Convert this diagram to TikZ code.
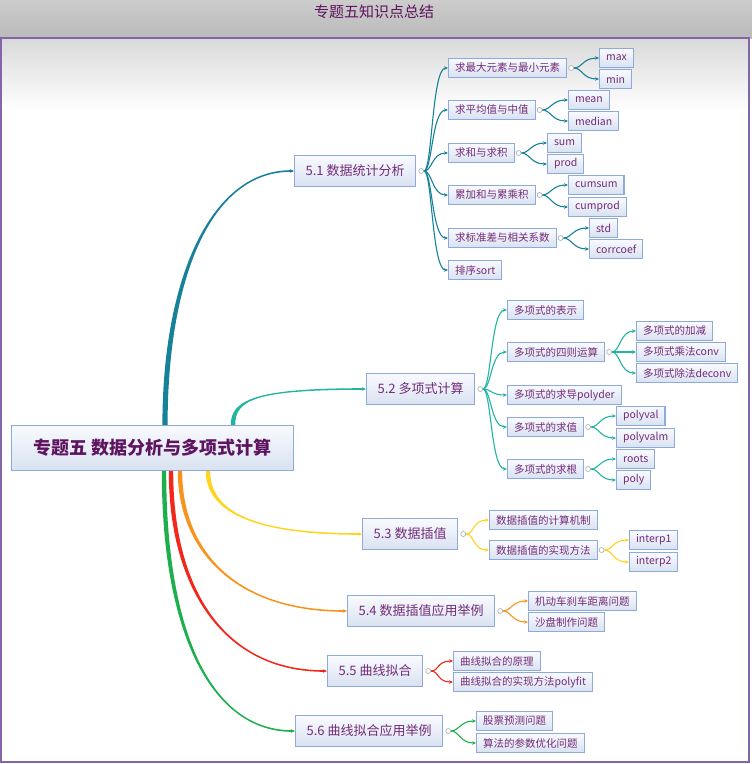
\documentclass[tikz,border=0pt]{standalone}
\usepackage{fontspec}
\setmainfont{Noto Sans CJK SC}
\usetikzlibrary{arrows.meta,calc}

\definecolor{txtpurple}{HTML}{742C78}
\definecolor{rootpurple}{HTML}{5E145E}
\definecolor{boxline}{HTML}{8EAADB}
\definecolor{boxtop}{HTML}{F8FAFE}
\definecolor{boxbot}{HTML}{D9E2F1}
\definecolor{frameline}{HTML}{8466A6}
\definecolor{cA}{HTML}{17819A}
\definecolor{cB}{HTML}{1FB5A0}
\definecolor{cC}{HTML}{FFD320}
\definecolor{cD}{HTML}{F7941D}
\definecolor{cE}{HTML}{F2281C}
\definecolor{cF}{HTML}{1DAF4C}

% thick tapered main branch: colour, from, control 1, control 2, to, half width at start
\newcommand\bigbranch[6]{%
  \fill[#1] ($(#2)-(#6,0)$) .. controls ($(#3)-(#6,0)$) and ($(#4)+(0,-0.8)$) .. ($(#5)+(-3,-0.8)$)
    -- ($(#5)+(-3,0.8)$) .. controls ($(#4)+(0,0.8)$) and ($(#3)+(#6,0)$) .. ($(#2)+(#6,0)$) -- cycle;
  \draw[#1,line width=1.2pt,-{Stealth[length=4pt,width=3.5pt]}] ($(#5)+(-4,0)$) -- (#5);
}

\begin{document}
\begin{tikzpicture}[%
      x=1pt,y=-1pt,
      box/.style={draw=boxline,line width=1.1pt,top color=boxtop,bottom color=boxbot,
        text=txtpurple,anchor=west,inner sep=0pt,inner xsep=6.5pt,minimum height=19pt,
        font=\fontsize{10.5}{12}\selectfont},
      topic/.style={box,line width=1.3pt,inner xsep=11pt,minimum height=31pt,
        font=\fontsize{13}{15}\selectfont},
      rootbox/.style={box,line width=1.3pt,inner xsep=22pt,minimum height=45pt,
        text=rootpurple,font=\fontsize{18}{20}\selectfont\bfseries},
      knob/.style={circle,draw=gray!60,fill=white,line width=0.7pt,inner sep=0pt,minimum size=5pt},
      sub/.style={line width=1.1pt,-{Stealth[length=4pt,width=3.5pt]}},
      ]
      \useasboundingbox (0,0) rectangle (752,764);

      % background and frame
      \shade[top color=black!20,bottom color=black!27] (0,0) rectangle (752,38);
      \shade[top color=black!15,bottom color=white] (1,38) rectangle (749,110);
      \draw[frameline,line width=2pt] (1,38) rectangle (749,762);
      \node[text=rootpurple,font=\fontsize{15}{17}\selectfont] (title) at (374,12) {专题五知识点总结};

      % root and topics
      \node[rootbox] (root) at (11,448) {专题五 数据分析与多项式计算};
      \node[topic] (t1) at (294,171) {5.1 数据统计分析};
      \node[topic] (t2) at (366,389) {5.2 多项式计算};
      \node[topic] (t3) at (362,534) {5.3 数据插值};
      \node[topic] (t4) at (347,611) {5.4 数据插值应用举例};
      \node[topic] (t5) at (327,671) {5.5 曲线拟合};
      \node[topic] (t6) at (295,731) {5.6 曲线拟合应用举例};

      % 5.1
      \node[box] (a1) at (448,68) {求最大元素与最小元素};
      \node[box] (a2) at (448,110) {求平均值与中值};
      \node[box] (a3) at (448,153) {求和与求积};
      \node[box] (a4) at (448,195) {累加和与累乘积};
      \node[box] (a5) at (448,238) {求标准差与相关系数};
      \node[box] (a6) at (448,270) {排序sort};
      \node[box] (a1x) at (599,58) {max};
      \node[box] (a1y) at (599,79) {min};
      \node[box] (a2x) at (568,100) {mean};
      \node[box] (a2y) at (568,121) {median};
      \node[box] (a3x) at (547,143) {sum};
      \node[box] (a3y) at (547,164) {prod};
      \node[box] (a4x) at (568,185) {cumsum};
      \node[box] (a4y) at (568,207) {cumprod};
      \node[box] (a5x) at (589,228) {std};
      \node[box] (a5y) at (589,249) {corrcoef};

      % 5.2
      \node[box] (b1) at (507,310) {多项式的表示};
      \node[box] (b2) at (507,352) {多项式的四则运算};
      \node[box] (b3) at (507,395) {多项式的求导polyder};
      \node[box] (b4) at (507,427) {多项式的求值};
      \node[box] (b5) at (507,469) {多项式的求根};
      \node[box] (b2x) at (636,331) {多项式的加减};
      \node[box] (b2y) at (636,352) {多项式乘法conv};
      \node[box] (b2z) at (636,373) {多项式除法deconv};
      \node[box] (b4x) at (616,416) {polyval};
      \node[box] (b4y) at (616,438) {polyvalm};
      \node[box] (b5x) at (616,459) {roots};
      \node[box] (b5y) at (616,480) {poly};

      % 5.3 to 5.6
      \node[box] (c1) at (489,520) {数据插值的计算机制};
      \node[box] (c2) at (489,550) {数据插值的实现方法};
      \node[box] (c2x) at (629,540) {interp1};
      \node[box] (c2y) at (629,562) {interp2};
      \node[box] (d1) at (528,601) {机动车刹车距离问题};
      \node[box] (d2) at (528,622) {沙盘制作问题};
      \node[box] (e1) at (453,661) {曲线拟合的原理};
      \node[box] (e2) at (453,682) {曲线拟合的实现方法polyfit};
      \node[box] (f1) at (476,721) {股票预测问题};
      \node[box] (f2) at (476,743) {算法的参数优化问题};

      % main branches
      \coordinate (o1) at ([xshift=154pt]root.north west);
      \coordinate (o2) at ([xshift=222pt]root.north west);
      \coordinate (o3) at ([xshift=197pt]root.south west);
      \coordinate (o4) at ([xshift=169pt]root.south west);
      \coordinate (o5) at ([xshift=160pt]root.south west);
      \coordinate (o6) at ([xshift=153pt]root.south west);
      \bigbranch{cA}{o1}{165,280}{210,171}{t1.west}{2.6}
      \bigbranch{cB}{o2}{233,400}{255,389}{t2.west}{2.2}
      \bigbranch{cC}{o3}{208,510}{250,534}{t3.west}{-2.2}
      \bigbranch{cD}{o4}{180,550}{235,611}{t4.west}{-2.2}
      \bigbranch{cE}{o5}{171,590}{225,671}{t5.west}{-2.2}
      \bigbranch{cF}{o6}{164,640}{215,731}{t6.west}{-2.2}

      % knobs
      \node[knob] (k1) at ([xshift=5pt]t1.east) {};
      \node[knob] (k2) at ([xshift=5pt]t2.east) {};
      \node[knob] (k3) at ([xshift=5pt]t3.east) {};
      \node[knob] (k4) at ([xshift=5pt]t4.east) {};
      \node[knob] (k5) at ([xshift=5pt]t5.east) {};
      \node[knob] (k6) at ([xshift=5pt]t6.east) {};
      \node[knob] (ka1) at ([xshift=4pt]a1.east) {};
      \node[knob] (ka2) at ([xshift=4pt]a2.east) {};
      \node[knob] (ka3) at ([xshift=4pt]a3.east) {};
      \node[knob] (ka4) at ([xshift=4pt]a4.east) {};
      \node[knob] (ka5) at ([xshift=4pt]a5.east) {};
      \node[knob] (kb2) at ([xshift=4pt]b2.east) {};
      \node[knob] (kb4) at ([xshift=4pt]b4.east) {};
      \node[knob] (kb5) at ([xshift=4pt]b5.east) {};
      \node[knob] (kc2) at ([xshift=4pt]c2.east) {};

      % 5.1 connectors
      \draw[sub,cA] (k1.east) .. controls +(8,0) and +(-16,0) .. (a1.west);
      \draw[sub,cA] (k1.east) .. controls +(8,0) and +(-16,0) .. (a2.west);
      \draw[sub,cA] (k1.east) .. controls +(8,0) and +(-16,0) .. (a3.west);
      \draw[sub,cA] (k1.east) .. controls +(8,0) and +(-16,0) .. (a4.west);
      \draw[sub,cA] (k1.east) .. controls +(8,0) and +(-16,0) .. (a5.west);
      \draw[sub,cA] (k1.east) .. controls +(8,0) and +(-16,0) .. (a6.west);
      \draw[sub,cA] (ka1.east) .. controls +(8,0) and +(-16,0) .. (a1x.west);
      \draw[sub,cA] (ka1.east) .. controls +(8,0) and +(-16,0) .. (a1y.west);
      \draw[sub,cA] (ka2.east) .. controls +(8,0) and +(-16,0) .. (a2x.west);
      \draw[sub,cA] (ka2.east) .. controls +(8,0) and +(-16,0) .. (a2y.west);
      \draw[sub,cA] (ka3.east) .. controls +(8,0) and +(-16,0) .. (a3x.west);
      \draw[sub,cA] (ka3.east) .. controls +(8,0) and +(-16,0) .. (a3y.west);
      \draw[sub,cA] (ka4.east) .. controls +(8,0) and +(-16,0) .. (a4x.west);
      \draw[sub,cA] (ka4.east) .. controls +(8,0) and +(-16,0) .. (a4y.west);
      \draw[sub,cA] (ka5.east) .. controls +(8,0) and +(-16,0) .. (a5x.west);
      \draw[sub,cA] (ka5.east) .. controls +(8,0) and +(-16,0) .. (a5y.west);

      % 5.2 connectors
      \draw[sub,cB] (k2.east) .. controls +(8,0) and +(-16,0) .. (b1.west);
      \draw[sub,cB] (k2.east) .. controls +(8,0) and +(-16,0) .. (b2.west);
      \draw[sub,cB] (k2.east) .. controls +(8,0) and +(-16,0) .. (b3.west);
      \draw[sub,cB] (k2.east) .. controls +(8,0) and +(-16,0) .. (b4.west);
      \draw[sub,cB] (k2.east) .. controls +(8,0) and +(-16,0) .. (b5.west);
      \draw[sub,cB] (kb2.east) .. controls +(8,0) and +(-16,0) .. (b2x.west);
      \draw[sub,cB] (kb2.east) -- (b2y.west);
      \draw[sub,cB] (kb2.east) .. controls +(8,0) and +(-16,0) .. (b2z.west);
      \draw[sub,cB] (kb4.east) .. controls +(8,0) and +(-16,0) .. (b4x.west);
      \draw[sub,cB] (kb4.east) .. controls +(8,0) and +(-16,0) .. (b4y.west);
      \draw[sub,cB] (kb5.east) .. controls +(8,0) and +(-16,0) .. (b5x.west);
      \draw[sub,cB] (kb5.east) .. controls +(8,0) and +(-16,0) .. (b5y.west);

      % 5.3 to 5.6 connectors
      \draw[sub,cC] (k3.east) .. controls +(8,0) and +(-16,0) .. (c1.west);
      \draw[sub,cC] (k3.east) .. controls +(8,0) and +(-16,0) .. (c2.west);
      \draw[sub,cC] (kc2.east) .. controls +(8,0) and +(-16,0) .. (c2x.west);
      \draw[sub,cC] (kc2.east) .. controls +(8,0) and +(-16,0) .. (c2y.west);
      \draw[sub,cD] (k4.east) .. controls +(8,0) and +(-16,0) .. (d1.west);
      \draw[sub,cD] (k4.east) .. controls +(8,0) and +(-16,0) .. (d2.west);
      \draw[sub,cE] (k5.east) .. controls +(8,0) and +(-16,0) .. (e1.west);
      \draw[sub,cE] (k5.east) .. controls +(8,0) and +(-16,0) .. (e2.west);
      \draw[sub,cF] (k6.east) .. controls +(8,0) and +(-16,0) .. (f1.west);
      \draw[sub,cF] (k6.east) .. controls +(8,0) and +(-16,0) .. (f2.west);
\end{tikzpicture}
\end{document}
